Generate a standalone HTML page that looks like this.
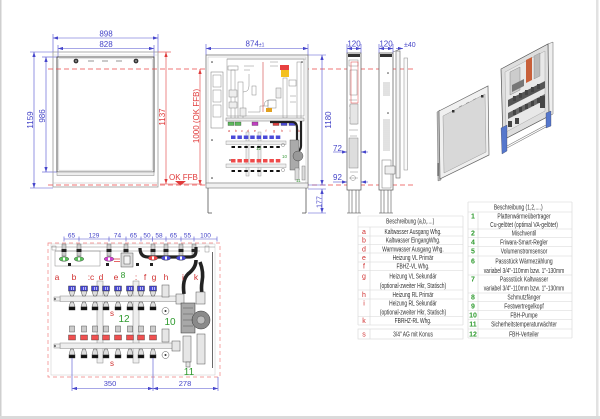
<!DOCTYPE html>
<html><head><meta charset="utf-8">
<style>
html,body{margin:0;padding:0;background:#fff;width:600px;height:419px;overflow:hidden}
svg{display:block}
text{font-family:"Liberation Sans",Arial,sans-serif}
</style></head><body>
<svg xmlns="http://www.w3.org/2000/svg" width="600" height="419" viewBox="0 0 600 419">
<defs>
<marker id="ab" viewBox="0 0 6 4" markerWidth="5" markerHeight="3.4" refX="6" refY="2" orient="auto-start-reverse" markerUnits="userSpaceOnUse"><path d="M0,0L6,2L0,4z" fill="#4646cc"/></marker>
<marker id="ar" viewBox="0 0 6 4" markerWidth="5" markerHeight="3.4" refX="6" refY="2" orient="auto-start-reverse" markerUnits="userSpaceOnUse"><path d="M0,0L6,2L0,4z" fill="#e03a3a"/></marker>
</defs>
<rect width="600" height="419" fill="#fff"/>
<rect x="0" y="0" width="1.5" height="419" fill="#cfcfcf"/>
<rect x="596" y="0" width="2.5" height="419" fill="#e2e2e2"/>
<rect x="0" y="416" width="600" height="3" fill="#dadada"/>

<!-- ================= LEFT FRONT VIEW ================= -->
<g stroke="#5050d0" stroke-width="0.6" fill="none">
 <line x1="53" y1="34" x2="53" y2="52"/><line x1="158" y1="34" x2="158" y2="52"/>
 <line x1="53" y1="38" x2="158" y2="38" marker-start="url(#ab)" marker-end="url(#ab)"/>
 <line x1="58" y1="45" x2="58" y2="57"/><line x1="154" y1="45" x2="154" y2="57"/>
 <line x1="58" y1="48.5" x2="154" y2="48.5" marker-start="url(#ab)" marker-end="url(#ab)"/>
 <line x1="30" y1="52" x2="53" y2="52"/><line x1="30" y1="188" x2="53" y2="188"/>
 <line x1="34" y1="52" x2="34" y2="188" marker-start="url(#ab)" marker-end="url(#ab)"/>
 <line x1="42" y1="57" x2="57" y2="57"/><line x1="42" y1="172" x2="57" y2="172"/>
 <line x1="46" y1="57" x2="46" y2="172" marker-start="url(#ab)" marker-end="url(#ab)"/>
</g>
<g fill="#4545c8" font-size="8" text-anchor="middle">
 <text x="106" y="36.5">898</text>
 <text x="106" y="47">828</text>
 <text transform="translate(33,120) rotate(-90)">1159</text>
 <text transform="translate(45,116) rotate(-90)">986</text>
</g>
<g stroke="#e03a3a" stroke-width="0.6" fill="none">
 <line x1="158" y1="52" x2="171" y2="52"/>
 <line x1="166" y1="52" x2="166" y2="184" marker-start="url(#ar)" marker-end="url(#ar)"/>
 <line x1="200" y1="69" x2="200" y2="185" marker-start="url(#ar)" marker-end="url(#ar)"/>
 <line x1="160" y1="184" x2="202" y2="184"/>
</g>
<g fill="#e03a3a" font-size="8" text-anchor="middle">
 <text transform="translate(165,117) rotate(-90)">1137</text>
 <text transform="translate(199,116) rotate(-90)">1000 (OK FFB)</text>
 <text x="169" y="180" text-anchor="start">OK FFB</text>
</g>
<polygon points="175,181 186,181 180.5,185.5" fill="#e03a3a"/>
<rect x="53" y="52" width="105" height="135" fill="none" stroke="#999" stroke-width="0.8"/>
<line x1="53" y1="55" x2="158" y2="55" stroke="#ccc" stroke-width="0.6"/>
<rect x="57" y="57" width="97" height="115" fill="none" stroke="#444" stroke-width="0.9"/>
<rect x="58.8" y="58.8" width="93.4" height="111.4" fill="none" stroke="#bbb" stroke-width="0.5"/>
<rect x="57" y="172" width="97" height="3.5" fill="#eee" stroke="#888" stroke-width="0.5"/>
<line x1="53" y1="183" x2="158" y2="183" stroke="#bbb" stroke-width="0.6"/>
<circle cx="76" cy="61" r="2.4" fill="#333"/><circle cx="76" cy="61" r="0.9" fill="#aaa"/>
<circle cx="136" cy="61" r="2.4" fill="#333"/><circle cx="136" cy="61" r="0.9" fill="#aaa"/>
<g stroke="#888" stroke-width="0.9"><line x1="88" y1="61" x2="94" y2="61"/><line x1="102" y1="61" x2="108" y2="61"/><line x1="116" y1="61" x2="122" y2="61"/></g>

<g stroke="#ea4a4a" stroke-width="0.8" stroke-dasharray="5,3">
 <line x1="48" y1="69" x2="413" y2="69"/>
 <line x1="48" y1="185" x2="413" y2="185"/>
</g>

<!-- ================= MIDDLE FRONT VIEW ================= -->
<g stroke="#5050d0" stroke-width="0.6" fill="none">
 <line x1="206" y1="44" x2="206" y2="55"/><line x1="308" y1="44" x2="308" y2="55"/>
 <line x1="206" y1="48.5" x2="308" y2="48.5" marker-start="url(#ab)" marker-end="url(#ab)"/>
 <line x1="308" y1="55" x2="326" y2="55"/><line x1="308" y1="185" x2="326" y2="185"/>
 <line x1="322" y1="55" x2="322" y2="185" marker-start="url(#ab)" marker-end="url(#ab)"/>
 <line x1="308" y1="189" x2="326" y2="189"/><line x1="308" y1="213" x2="326" y2="213"/>
 <line x1="322" y1="189" x2="322" y2="213" marker-start="url(#ab)" marker-end="url(#ab)"/>
 <line x1="333" y1="152" x2="347" y2="152" marker-end="url(#ab)"/>
 <line x1="368" y1="152" x2="361" y2="152" marker-end="url(#ab)"/>
 <line x1="333" y1="182" x2="347" y2="182" marker-end="url(#ab)"/>
 <line x1="368" y1="182" x2="361" y2="182" marker-end="url(#ab)"/>
</g>
<g fill="#4545c8" font-size="8" text-anchor="middle">
 <text x="255" y="46.5">874<tspan font-size="5">±1</tspan></text>
 <text transform="translate(331,120) rotate(-90)">1180</text>
 <text transform="translate(321.5,202) rotate(-90)" font-size="7">177</text>
 <text x="333" y="151" text-anchor="start">72</text>
 <text x="333" y="180" text-anchor="start">92</text>
</g>
<rect x="206" y="55" width="102" height="130" fill="#fff" stroke="#777" stroke-width="0.8"/>
<rect x="208" y="57" width="98" height="126" fill="none" stroke="#bbb" stroke-width="0.5"/>
<rect x="206" y="183" width="102" height="5" fill="#f0f0f0" stroke="#777" stroke-width="0.6"/>
<g stroke="#555" stroke-width="0.8">
 <line x1="208" y1="188" x2="208" y2="213"/><line x1="306" y1="188" x2="306" y2="213"/>
 <line x1="208" y1="213" x2="212" y2="213"/><line x1="302" y1="213" x2="306" y2="213"/>
</g>
<g stroke="#888" stroke-width="0.5" fill="none">
 <line x1="227" y1="59" x2="306" y2="59"/>
 <rect x="227" y="59" width="77" height="57"/>
 <rect x="211" y="72" width="12" height="56" stroke="#777"/>
 <rect x="213" y="75" width="8" height="12"/>
 <rect x="213" y="90" width="8" height="12"/>
 <rect x="213" y="105" width="8" height="12"/>
 <rect x="231" y="70" width="4" height="50"/>
 <rect x="238" y="82" width="5" height="38"/>
 <path d="M243,92 q6,0 6,-6 v-12"/>
 <rect x="252" y="86" width="4" height="9"/>
 <rect x="283" y="78" width="4" height="40"/>
 <rect x="297" y="62" width="4" height="58"/>
 <path d="M248,112 h12 v-6 h8 v-6"/>
 <path d="M264,106 q0,-6 6,-6 h6"/>
 <rect x="268" y="100" width="8" height="8"/>
 <rect x="228" y="66" width="10" height="4"/>
 <rect x="289" y="80" width="7" height="6"/>
 <rect x="229" y="90" width="8" height="7" fill="#eee"/>
 <rect x="229" y="102" width="8" height="6" fill="#eee"/>
 <path d="M244,66 h10 M244,70 h6 M270,62 h8 M270,66 h8 M290,96 h6 M290,102 h6"/>
 <rect x="240" y="108" width="6" height="8" fill="#eee"/>
 <rect x="276" y="88" width="5" height="10" fill="#eee"/>
</g>
<line x1="263" y1="62" x2="263" y2="112" stroke="#d04040" stroke-width="0.6"/>
<rect x="280" y="65" width="9" height="5" fill="#e84040"/>
<rect x="281" y="70" width="8" height="7" fill="#f3c020"/>
<rect x="266" y="108" width="6" height="4" fill="#e0a020"/>
<rect x="226" y="118" width="78" height="3" fill="#eee" stroke="#777" stroke-width="0.5"/>
<g stroke="#333" stroke-width="0.3">
 <rect x="228" y="122" width="6" height="3.5" fill="#5cb85c"/>
 <rect x="235" y="122" width="6" height="3.5" fill="#5cb85c"/>
 <rect x="252" y="122" width="6" height="3.5" fill="#c040c0"/>
 <rect x="273" y="122" width="6" height="3.5" fill="#e04040"/>
 <rect x="281" y="122" width="6" height="3.5" fill="#4a4ad8"/>
 <rect x="289" y="122" width="6" height="3.5" fill="#4a4ad8"/>
</g>
<path d="M270,122 h22 q5,0 5,6 v18" stroke="#222" stroke-width="2.2" fill="none"/>
<path d="M301,121 v25 q0,4 -4,6" stroke="#222" stroke-width="2.2" fill="none"/>
<g fill="#d03030" font-size="3.5" text-anchor="middle">
 <text x="229" y="132">a</text><text x="236" y="132">b</text><text x="242" y="132">c</text><text x="248" y="132">d</text><text x="255" y="132">e</text><text x="266" y="132">f</text><text x="274" y="132">g</text><text x="282" y="132">h</text><text x="290" y="132">i</text><text x="299" y="132">k</text>
</g>
<g stroke="#888" stroke-width="0.4" fill="#eee">
 <rect x="246" y="132" width="3" height="44"/>
 <rect x="258" y="132" width="3" height="44"/>
 <rect x="226" y="141" width="60" height="3.5"/>
 <rect x="226" y="164" width="60" height="3.5"/>
</g>
<g fill="#4a4ad8">
 <rect x="231" y="135.5" width="4.5" height="3.5"/><rect x="237.4" y="135.5" width="4.5" height="3.5"/><rect x="243.8" y="135.5" width="4.5" height="3.5"/><rect x="250.2" y="135.5" width="4.5" height="3.5"/><rect x="256.6" y="135.5" width="4.5" height="3.5"/><rect x="263" y="135.5" width="4.5" height="3.5"/><rect x="269.4" y="135.5" width="4.5" height="3.5"/><rect x="275.8" y="135.5" width="4.5" height="3.5"/>
</g>
<g fill="#ee4a4a">
 <rect x="231" y="159" width="4.5" height="3.5"/><rect x="237.4" y="159" width="4.5" height="3.5"/><rect x="243.8" y="159" width="4.5" height="3.5"/><rect x="250.2" y="159" width="4.5" height="3.5"/><rect x="256.6" y="159" width="4.5" height="3.5"/><rect x="263" y="159" width="4.5" height="3.5"/><rect x="269.4" y="159" width="4.5" height="3.5"/><rect x="275.8" y="159" width="4.5" height="3.5"/>
</g>
<g fill="#111">
 <rect x="231.5" y="146" width="3.5" height="2"/><rect x="237.9" y="146" width="3.5" height="2"/><rect x="244.3" y="146" width="3.5" height="2"/><rect x="250.7" y="146" width="3.5" height="2"/><rect x="257.1" y="146" width="3.5" height="2"/><rect x="263.5" y="146" width="3.5" height="2"/><rect x="269.9" y="146" width="3.5" height="2"/><rect x="276.3" y="146" width="3.5" height="2"/>
 <rect x="231.5" y="170" width="3.5" height="2"/><rect x="237.9" y="170" width="3.5" height="2"/><rect x="244.3" y="170" width="3.5" height="2"/><rect x="250.7" y="170" width="3.5" height="2"/><rect x="257.1" y="170" width="3.5" height="2"/><rect x="263.5" y="170" width="3.5" height="2"/><rect x="269.9" y="170" width="3.5" height="2"/><rect x="276.3" y="170" width="3.5" height="2"/>
</g>
<rect x="290" y="140" width="9" height="30" fill="#aaa" stroke="#444" stroke-width="0.4"/>
<circle cx="298" cy="156" r="5" fill="#999" stroke="#333" stroke-width="0.4"/>
<rect x="295" y="168" width="4" height="12" fill="#ddd" stroke="#666" stroke-width="0.4"/>
<rect x="302" y="166" width="3" height="14" fill="#ddd" stroke="#666" stroke-width="0.4"/>
<circle cx="283" cy="145" r="1.6" fill="none" stroke="#666" stroke-width="0.4"/>
<circle cx="283" cy="170" r="1.6" fill="none" stroke="#666" stroke-width="0.4"/>
<g fill="#333"><circle cx="212" cy="140" r="0.8"/><circle cx="212" cy="178" r="0.8"/><circle cx="230" cy="160" r="0.8"/><circle cx="212" cy="62" r="0.8"/><circle cx="302" cy="62" r="0.8"/></g>
<g fill="#3a9a3a" font-size="4.5">
 <text x="256" y="150">12</text><text x="282" y="158">10</text><text x="296" y="182">11</text>
</g>

<!-- ================= SIDE VIEWS ================= -->
<g stroke="#5050d0" stroke-width="0.6" fill="none">
 <line x1="347" y1="44" x2="347" y2="53"/><line x1="361" y1="44" x2="361" y2="53"/>
 <line x1="347" y1="48.5" x2="361" y2="48.5" marker-start="url(#ab)" marker-end="url(#ab)"/>
 <line x1="379" y1="44" x2="379" y2="53"/><line x1="393" y1="44" x2="393" y2="53"/>
 <line x1="379" y1="48.5" x2="393" y2="48.5" marker-start="url(#ab)" marker-end="url(#ab)"/>
 <line x1="396" y1="48.5" x2="403" y2="48.5" marker-end="url(#ab)"/>
</g>
<g fill="#4545c8" font-size="8" text-anchor="middle">
 <text x="354" y="46.5">120</text>
 <text x="386" y="46.5">120</text>
 <text x="404" y="47" text-anchor="start" font-size="7">±40</text>
</g>
<rect x="347" y="53" width="14" height="137" fill="#fff" stroke="#555" stroke-width="0.7"/>
<rect x="348" y="54" width="12" height="3" fill="#333"/>
<g stroke="#555" stroke-width="0.6">
 <line x1="349" y1="190" x2="349" y2="213"/><line x1="352" y1="190" x2="352" y2="213"/>
 <line x1="356" y1="190" x2="356" y2="213"/><line x1="359" y1="190" x2="359" y2="213"/>
 <line x1="347" y1="213" x2="361" y2="213"/>
</g>
<g stroke="#888" stroke-width="0.5" fill="none">
 <rect x="349" y="60" width="9" height="6"/><rect x="350" y="70" width="7" height="25"/>
 <path d="M349,100 h8 M349,106 h9 M350,112 h7 M349,118 h8 M351,124 h6 M349,130 h9 M350,136 h7 M349,142 h8 M350,148 h8 M349,154 h9 M350,160 h7 M349,166 h8 M350,172 h8 M349,178 h9"/>
 <rect x="350" y="104" width="8" height="20" fill="#e6e6e6"/>
 <rect x="349" y="138" width="9" height="30" fill="#ddd"/>
 <circle cx="353" cy="178" r="2.5"/>
</g>
<rect x="351" y="62" width="7" height="41" fill="none" stroke="#e04040" stroke-width="0.5"/>
<rect x="379" y="53" width="14" height="137" fill="#fff" stroke="#555" stroke-width="0.7"/>
<rect x="380" y="54" width="12" height="3" fill="#333"/>
<g stroke="#555" stroke-width="0.6">
 <line x1="381" y1="190" x2="381" y2="213"/><line x1="384" y1="190" x2="384" y2="213"/>
 <line x1="388" y1="190" x2="388" y2="213"/><line x1="391" y1="190" x2="391" y2="213"/>
 <line x1="379" y1="213" x2="393" y2="213"/>
</g>
<g stroke="#888" stroke-width="0.5">
 <path d="M383,83 h7 M383,85 h7 M383,87 h7 M383,89 h7 M383,91 h7 M383,93 h7 M383,95 h7"/>
 <path d="M383,120 h7 M383,122 h7 M383,124 h7 M383,126 h7 M383,128 h7 M383,130 h7 M383,132 h7 M383,134 h7 M383,136 h7 M383,138 h7 M383,140 h7 M383,142 h7 M383,144 h7 M383,146 h7 M383,148 h7 M383,150 h7"/>
</g>
<circle cx="388" cy="73" r="0.8" fill="#444"/><circle cx="388" cy="113" r="0.8" fill="#444"/>
<rect x="382" y="160" width="9" height="28" fill="none" stroke="#777" stroke-width="0.5"/>
<rect x="385" y="166" width="10" height="8" fill="#eee" stroke="#666" stroke-width="0.5"/>
<rect x="396" y="51" width="4" height="127" fill="#f4f4f4" stroke="#666" stroke-width="0.6"/>
<rect x="404" y="58" width="3.5" height="112" fill="#fafafa" stroke="#888" stroke-width="0.5"/>
<line x1="393" y1="52" x2="400" y2="49" stroke="#666" stroke-width="0.5"/>

<!-- ================= 3D VIEW ================= -->
<polygon points="437,112 440,110 441,180 438,181" fill="#bbb" stroke="#666" stroke-width="0.4"/>
<polygon points="439,111 488,86 489,155 440,179" fill="#f0f0f0" stroke="#666" stroke-width="0.7"/>
<polygon points="443,116 485,94 486,152 444,173" fill="#d8d8d8" stroke="#999" stroke-width="0.5"/>
<rect x="452" y="110" width="2.5" height="2.5" fill="#333"/><rect x="481" y="95" width="2.5" height="2.5" fill="#333"/>
<g stroke="#888" stroke-width="0.6"><line x1="459" y1="107" x2="462" y2="105.5"/><line x1="466" y1="103.5" x2="469" y2="102"/><line x1="473" y1="100" x2="476" y2="98.5"/></g>
<line x1="438" y1="163" x2="438" y2="176" stroke="#333" stroke-width="1"/>
<polygon points="548,44 553,42 553,114 549,116" fill="#eee" stroke="#666" stroke-width="0.5"/>
<polygon points="501,69 548,44 549,116 503,140" fill="#dedede" stroke="#555" stroke-width="0.7"/>
<polygon points="505,72 545,51 545,111 506,132" fill="#e8e8e8" stroke="#999" stroke-width="0.4"/>
<polygon points="526,60 532,57 532,80 526,83" fill="#c8603a"/>
<polygon points="534,56 540,53 540,76 534,79" fill="#bbb" stroke="#777" stroke-width="0.3"/>
<polygon points="510,72 520,67 520,90 510,95" fill="#ccc" stroke="#777" stroke-width="0.4"/>
<polygon points="508,100 545,81 545,88 508,107" fill="#555"/>
<polygon points="508,113 545,94 545,100 508,119" fill="#666"/>
<polygon points="512,85 524,79 524,86 512,92" fill="#777"/>
<g fill="#444">
 <rect x="513" y="96" width="3" height="5"/><rect x="519" y="93" width="3" height="5"/><rect x="525" y="90" width="3" height="5"/><rect x="531" y="87" width="3" height="5"/><rect x="537" y="84" width="3" height="5"/>
 <rect x="513" y="110" width="3" height="5"/><rect x="519" y="107" width="3" height="5"/><rect x="525" y="104" width="3" height="5"/><rect x="531" y="101" width="3" height="5"/><rect x="537" y="98" width="3" height="5"/>
 <rect x="540" y="96" width="5" height="12"/>
 <rect x="508" y="121" width="4" height="6"/><rect x="515" y="118" width="4" height="6"/>
</g>
<polygon points="501,128 507,125 507,151 502,154" fill="#5577cc" stroke="#334" stroke-width="0.3"/>
<polygon points="546,113 551,111 551,126 546,128" fill="#5577cc" stroke="#334" stroke-width="0.3"/>
<g stroke="#777" stroke-width="0.6"><line x1="507" y1="146" x2="546" y2="125"/><line x1="507" y1="148" x2="546" y2="127"/></g>

<!-- ================= TABLE LEFT ================= -->
<g stroke="#d6d6d6" stroke-width="0.6">
 <line x1="358" y1="216" x2="463" y2="216"/><line x1="358" y1="227" x2="463" y2="227"/>
 <line x1="358" y1="236" x2="463" y2="236"/><line x1="358" y1="244.5" x2="463" y2="244.5"/>
 <line x1="358" y1="253" x2="463" y2="253"/><line x1="358" y1="262" x2="463" y2="262"/>
 <line x1="358" y1="270.5" x2="463" y2="270.5"/><line x1="358" y1="290" x2="463" y2="290"/>
 <line x1="358" y1="299" x2="463" y2="299"/><line x1="358" y1="316.5" x2="463" y2="316.5"/>
 <line x1="358" y1="325" x2="463" y2="325"/>
 <line x1="358" y1="216" x2="358" y2="325"/><line x1="370" y1="227" x2="370" y2="325"/><line x1="463" y1="216" x2="463" y2="325"/>
 <rect x="358" y="329" width="105" height="10" fill="none"/>
 <line x1="370" y1="329" x2="370" y2="339"/>
</g>
<g fill="#d03030" font-size="7" text-anchor="middle">
 <text x="364" y="234">a</text><text x="364" y="242.5">b</text><text x="364" y="251.5">d</text><text x="364" y="260">e</text><text x="364" y="268.5">f</text><text x="364" y="278.5">g</text><text x="364" y="297">h</text><text x="364" y="305.5">i</text><text x="364" y="323">k</text><text x="364" y="336.5">s</text>
</g>
<g transform="translate(413,0) scale(0.71,1)" fill="#333" font-size="6.9" text-anchor="middle">
 <text x="-4" y="223.5">Beschreibung (a,b,....)</text>
 <text x="0" y="234">Kaltwasser Ausgang Whg.</text>
 <text x="0" y="242.5">Kaltwasser EingangWhg.</text>
 <text x="0" y="251.5">Warmwasser Ausgang Whg.</text>
 <text x="0" y="260">Heizung VL Primär</text>
 <text x="0" y="268.5">FBHZ-VL Whg.</text>
 <text x="0" y="278.5">Heizung VL Sekundär</text>
 <text x="0" y="288">(optional-zweiter Hkr, Statisch)</text>
 <text x="0" y="297">Heizung RL Primär</text>
 <text x="0" y="305.5">Heizung RL Sekundär</text>
 <text x="0" y="314.5">(optional-zweiter Hkr, Statisch)</text>
 <text x="0" y="323">FBRHZ-RL Whg.</text>
 <text x="0" y="336.5">3/4" AG mit Konus</text>
</g>

<!-- ================= TABLE RIGHT ================= -->
<g stroke="#d6d6d6" stroke-width="0.6">
 <line x1="468" y1="202" x2="572" y2="202"/><line x1="468" y1="212" x2="572" y2="212"/>
 <line x1="468" y1="229" x2="572" y2="229"/><line x1="468" y1="237.5" x2="572" y2="237.5"/>
 <line x1="468" y1="246.5" x2="572" y2="246.5"/><line x1="468" y1="256" x2="572" y2="256"/>
 <line x1="468" y1="275" x2="572" y2="275"/><line x1="468" y1="293" x2="572" y2="293"/>
 <line x1="468" y1="301.5" x2="572" y2="301.5"/><line x1="468" y1="310.5" x2="572" y2="310.5"/>
 <line x1="468" y1="319.5" x2="572" y2="319.5"/><line x1="468" y1="329" x2="572" y2="329"/>
 <line x1="468" y1="338" x2="572" y2="338"/>
 <line x1="468" y1="202" x2="468" y2="338"/><line x1="478" y1="212" x2="478" y2="338"/><line x1="572" y1="202" x2="572" y2="338"/>
</g>
<g fill="#2e9a2e" font-size="7" font-weight="bold" text-anchor="middle">
 <text x="473" y="218.5">1</text><text x="473" y="235.5">2</text><text x="473" y="244.5">4</text><text x="473" y="253.5">5</text><text x="473" y="263.5">6</text><text x="473" y="281.5">7</text><text x="473" y="299.5">8</text><text x="473" y="308.5">9</text><text x="473" y="317.5">10</text><text x="473" y="326.5">11</text><text x="473" y="336.5">12</text>
</g>
<g transform="translate(524,0) scale(0.72,1)" fill="#333" font-size="6.9" text-anchor="middle">
 <text x="-8" y="209.5">Beschreibung (1,2,....)</text>
 <text x="0" y="218.5">Plattenwärmeübertrager</text>
 <text x="0" y="227">Cu-gelötet (optimal VA-gelötet)</text>
 <text x="0" y="235.5">Mischventil</text>
 <text x="0" y="244.5">Friwara-Smart-Regler</text>
 <text x="0" y="253.5">Volumenstromsensor</text>
 <text x="0" y="263.5">Passstück Wärmezählung</text>
 <text x="0" y="273">variabel 3/4"-110mm bzw. 1"-130mm</text>
 <text x="0" y="281.5">Passstück Kaltwasser</text>
 <text x="0" y="290.5">variabel 3/4"-110mm bzw. 1"-130mm</text>
 <text x="0" y="299.5">Schmutzfänger</text>
 <text x="0" y="308.5">Festwertregelkopf</text>
 <text x="0" y="317.5">FBH-Pumpe</text>
 <text x="0" y="326.5">Sicherheitstemperaturwächter</text>
 <text x="0" y="336.5">FBH-Verteiler</text>
</g>

<!-- ================= LOWER LEFT DETAIL ================= -->
<g stroke="#5050d0" stroke-width="0.6" fill="none">
 <line x1="64" y1="239" x2="217" y2="239"/>
 <path d="M64,236.5v5 M79,236.5v5 M109,236.5v5 M126,236.5v5 M141,236.5v5 M152.5,236.5v5 M166,236.5v5 M181,236.5v5 M194,236.5v5 M217,236.5v5"/>
</g>
<g fill="#4545c8" font-size="6.5" text-anchor="middle">
 <text x="71.5" y="237.5">65</text><text x="94" y="237.5">129</text><text x="117.5" y="237.5">74</text><text x="133.5" y="237.5">65</text><text x="147" y="237.5">50</text><text x="159" y="237.5">58</text><text x="173.5" y="237.5">65</text><text x="187.5" y="237.5">55</text><text x="205.5" y="237.5">100</text>
</g>
<rect x="48" y="243" width="172" height="134" fill="none" stroke="#f08080" stroke-width="0.7" stroke-dasharray="4,3"/>
<rect x="51" y="244" width="164" height="131" fill="none" stroke="#c8c8c8" stroke-width="0.5"/>
<line x1="212.5" y1="252" x2="212.5" y2="368" stroke="#444" stroke-width="0.8"/>
<rect x="52" y="246" width="4" height="4" fill="none" stroke="#777" stroke-width="0.4"/>
<rect x="205" y="246" width="4" height="6" fill="none" stroke="#777" stroke-width="0.4"/>
<g stroke="#888" stroke-width="0.5" fill="none">
 <line x1="51" y1="247" x2="215" y2="247"/>
 <line x1="55" y1="251" x2="200" y2="251"/>
 <rect x="55" y="251" width="45" height="15"/>
</g>
<g fill="#ccc" stroke="#555" stroke-width="0.4">
 <rect x="62" y="244" width="4" height="12"/><rect x="77" y="244" width="4" height="12"/><rect x="107" y="244" width="4" height="12"/><rect x="124" y="244" width="4" height="10"/><rect x="151" y="244" width="4" height="12"/><rect x="164" y="244" width="4" height="12"/><rect x="179" y="244" width="4" height="12"/><rect x="192" y="244" width="4" height="12"/>
</g>
<g fill="#222">
 <rect x="61.5" y="249" width="5" height="3"/><rect x="76.5" y="249" width="5" height="3"/><rect x="106.5" y="249" width="5" height="3"/><rect x="123.5" y="249" width="5" height="3"/><rect x="150.5" y="249" width="5" height="3"/><rect x="163.5" y="249" width="5" height="3"/><rect x="178.5" y="249" width="5" height="3"/><rect x="191.5" y="249" width="5" height="3"/>
 <rect x="68" y="263" width="3" height="3"/><rect x="106" y="263" width="3" height="3"/><rect x="136" y="263" width="3" height="3"/><rect x="150" y="263" width="3" height="3"/>
</g>
<path d="M140,248 q0,9 8,9 h42 q6,0 6,-6 v-4" stroke="#222" stroke-width="3.2" fill="none"/>
<path d="M196,260 q0,8 -8,14 q-6,6 -4,20" stroke="#222" stroke-width="3.6" fill="none"/>
<path d="M200,262 q4,10 2,20 q-1,6 0,12" stroke="#222" stroke-width="3.6" fill="none"/>
<g stroke="#333" stroke-width="0.4">
 <ellipse cx="64" cy="259" rx="4.8" ry="2.3" fill="#5cc05c"/>
 <ellipse cx="79" cy="259" rx="4.8" ry="2.3" fill="#5cc05c"/>
 <ellipse cx="109" cy="259" rx="4.8" ry="2.3" fill="#d040d0"/>
 <ellipse cx="153" cy="258" rx="4.8" ry="2.3" fill="#ee4a4a"/>
 <ellipse cx="166" cy="258" rx="4.8" ry="2.3" fill="#4a4ad8"/>
 <ellipse cx="181" cy="258" rx="4.8" ry="2.3" fill="#4a4ad8"/>
 <rect x="121" y="253" width="12" height="14" fill="#ddd"/>
 <rect x="124" y="256" width="6" height="8" fill="#f4f4f4"/>
</g>
<g fill="#fff"><rect x="63" y="257.5" width="2" height="3"/><rect x="78" y="257.5" width="2" height="3"/><rect x="108" y="257.5" width="2" height="3"/><rect x="152" y="256.5" width="2" height="3"/><rect x="165" y="256.5" width="2" height="3"/><rect x="180" y="256.5" width="2" height="3"/></g>
<g stroke="#e04040" stroke-width="0.8"><line x1="114" y1="259" x2="120" y2="259"/><line x1="114" y1="261.5" x2="120" y2="261.5"/></g>
<g fill="#d03030" font-size="8.5" text-anchor="middle">
 <text x="57" y="280">a</text><text x="74" y="280">b</text><text x="91" y="280">:c</text><text x="101" y="280">d</text><text x="116" y="280">e</text><text x="136" y="280">:</text><text x="145" y="280">f</text><text x="154" y="280">g</text><text x="166" y="280">h</text><text x="183" y="280">i</text><text x="196" y="280">k</text>
</g>
<text x="123" y="278" fill="#2e9a2e" font-size="8.5" text-anchor="middle">8</text>
<g fill="#eee" stroke="#888" stroke-width="0.5">
 <rect x="97" y="281" width="6" height="82"/>
 <rect x="133" y="281" width="6" height="82"/>
 <rect x="60" y="296" width="118" height="5.5"/>
 <rect x="60" y="343" width="118" height="5.5"/>
 <rect x="54" y="297" width="6" height="4"/>
 <rect x="54" y="344" width="6" height="4"/>
</g>
<circle cx="55" cy="299" r="0.9" fill="#333"/><circle cx="55" cy="346" r="0.9" fill="#333"/>
<g stroke="#222" stroke-width="0.4">
 <g fill="#4a4ad8"><rect x="68.5" y="286" width="7" height="5"/><rect x="80.5" y="286" width="7" height="5"/><rect x="91.5" y="286" width="7" height="5"/><rect x="102.5" y="286" width="7" height="5"/><rect x="114.5" y="286" width="7" height="5"/><rect x="126.5" y="286" width="7" height="5"/><rect x="137.5" y="286" width="7" height="5"/><rect x="149.5" y="286" width="7" height="5"/></g>
 <g fill="#ddd"><polygon points="69,291 75,291 73.5,296 70.5,296"/><polygon points="81,291 87,291 85.5,296 82.5,296"/><polygon points="92,291 98,291 96.5,296 93.5,296"/><polygon points="103,291 109,291 107.5,296 104.5,296"/><polygon points="115,291 121,291 119.5,296 116.5,296"/><polygon points="127,291 133,291 131.5,296 128.5,296"/><polygon points="138,291 144,291 142.5,296 139.5,296"/><polygon points="150,291 156,291 154.5,296 151.5,296"/>
 <polygon points="69,307 75,307 73.5,302 70.5,302"/><polygon points="81,307 87,307 85.5,302 82.5,302"/><polygon points="92,307 98,307 96.5,302 93.5,302"/><polygon points="103,307 109,307 107.5,302 104.5,302"/><polygon points="115,307 121,307 119.5,302 116.5,302"/><polygon points="127,307 133,307 131.5,302 128.5,302"/><polygon points="138,307 144,307 142.5,302 139.5,302"/><polygon points="150,307 156,307 154.5,302 151.5,302"/></g>
 <g fill="#111"><rect x="69" y="307" width="6" height="3"/><rect x="81" y="307" width="6" height="3"/><rect x="92" y="307" width="6" height="3"/><rect x="103" y="307" width="6" height="3"/><rect x="115" y="307" width="6" height="3"/><rect x="127" y="307" width="6" height="3"/><rect x="138" y="307" width="6" height="3"/><rect x="150" y="307" width="6" height="3"/></g>
</g>
<g fill="#fff" opacity="0.8"><rect x="71" y="287" width="0.8" height="3"/><rect x="73" y="287" width="0.8" height="3"/><rect x="83" y="287" width="0.8" height="3"/><rect x="85" y="287" width="0.8" height="3"/><rect x="94" y="287" width="0.8" height="3"/><rect x="96" y="287" width="0.8" height="3"/><rect x="105" y="287" width="0.8" height="3"/><rect x="107" y="287" width="0.8" height="3"/><rect x="117" y="287" width="0.8" height="3"/><rect x="119" y="287" width="0.8" height="3"/><rect x="129" y="287" width="0.8" height="3"/><rect x="131" y="287" width="0.8" height="3"/><rect x="140" y="287" width="0.8" height="3"/><rect x="142" y="287" width="0.8" height="3"/><rect x="152" y="287" width="0.8" height="3"/><rect x="154" y="287" width="0.8" height="3"/></g>
<g stroke="#333" stroke-width="0.4">
 <g fill="#ccc"><rect x="69.5" y="326" width="5" height="6"/><rect x="81.5" y="326" width="5" height="6"/><rect x="92.5" y="326" width="5" height="6"/><rect x="103.5" y="326" width="5" height="6"/><rect x="115.5" y="326" width="5" height="6"/><rect x="127.5" y="326" width="5" height="6"/><rect x="138.5" y="326" width="5" height="6"/><rect x="150.5" y="326" width="5" height="6"/></g>
 <g fill="#f05050"><rect x="68.5" y="335" width="7" height="5"/><rect x="80.5" y="335" width="7" height="5"/><rect x="91.5" y="335" width="7" height="5"/><rect x="102.5" y="335" width="7" height="5"/><rect x="114.5" y="335" width="7" height="5"/><rect x="126.5" y="335" width="7" height="5"/><rect x="137.5" y="335" width="7" height="5"/><rect x="149.5" y="335" width="7" height="5"/></g>
 <g fill="#ddd"><polygon points="69,355 75,355 73.5,349 70.5,349"/><polygon points="81,355 87,355 85.5,349 82.5,349"/><polygon points="92,355 98,355 96.5,349 93.5,349"/><polygon points="103,355 109,355 107.5,349 104.5,349"/><polygon points="115,355 121,355 119.5,349 116.5,349"/><polygon points="127,355 133,355 131.5,349 128.5,349"/><polygon points="138,355 144,355 142.5,349 139.5,349"/><polygon points="150,355 156,355 154.5,349 151.5,349"/></g>
 <g fill="#111"><rect x="69" y="355" width="6" height="3"/><rect x="81" y="355" width="6" height="3"/><rect x="92" y="355" width="6" height="3"/><rect x="103" y="355" width="6" height="3"/><rect x="115" y="355" width="6" height="3"/><rect x="127" y="355" width="6" height="3"/><rect x="138" y="355" width="6" height="3"/><rect x="150" y="355" width="6" height="3"/></g>
</g>
<g stroke="#555" stroke-width="0.5" fill="#e6e6e6">
 <rect x="162" y="285" width="7" height="12"/>
 <circle cx="165.5" cy="311" r="3.5" fill="#fff"/>
 <rect x="162" y="329" width="7" height="13"/>
 <circle cx="165.5" cy="355" r="3.5" fill="#fff"/>
 <rect x="176" y="294" width="8" height="10"/>
 <rect x="196" y="292" width="9" height="12"/>
 <rect x="172" y="341" width="8" height="10"/>
 <rect x="183" y="336" width="8" height="26"/>
 <rect x="197" y="334" width="8" height="30"/>
 <rect x="186" y="362" width="4" height="5"/>
</g>
<circle cx="165.5" cy="311" r="1" fill="#333"/><circle cx="165.5" cy="355" r="1" fill="#333"/>
<rect x="181" y="303" width="14" height="30" fill="#a8a8a8" stroke="#333" stroke-width="0.5"/>
<circle cx="201" cy="320" r="9" fill="#8a8a8a" stroke="#333" stroke-width="0.5"/>
<circle cx="201" cy="320" r="4" fill="#bbb" stroke="#444" stroke-width="0.4"/>
<g stroke="#444" stroke-width="0.4"><line x1="183" y1="308" x2="193" y2="308"/><line x1="183" y1="314" x2="193" y2="314"/><line x1="183" y1="320" x2="193" y2="320"/><line x1="183" y1="326" x2="193" y2="326"/></g>
<g fill="#2e9a2e" font-size="10" text-anchor="middle">
 <text x="124" y="322">12</text>
 <text x="170" y="325">10</text>
 <text x="189" y="375">11</text>
</g>
<g fill="#d03030" font-size="8" text-anchor="middle">
 <text x="112" y="316">s</text>
 <text x="112" y="366">s</text>
</g>
<g stroke="#5050d0" stroke-width="0.6" fill="none">
 <line x1="72" y1="358" x2="72" y2="391"/>
 <line x1="153" y1="358" x2="153" y2="391"/>
 <line x1="218" y1="377" x2="218" y2="391"/>
 <line x1="72" y1="388.5" x2="153" y2="388.5" marker-start="url(#ab)" marker-end="url(#ab)"/>
 <line x1="153" y1="388.5" x2="218" y2="388.5" marker-start="url(#ab)" marker-end="url(#ab)"/>
</g>
<g fill="#4545c8" font-size="7.5" text-anchor="middle">
 <text x="110" y="386">350</text>
 <text x="185" y="386">278</text>
</g>
</svg>
</body></html>
